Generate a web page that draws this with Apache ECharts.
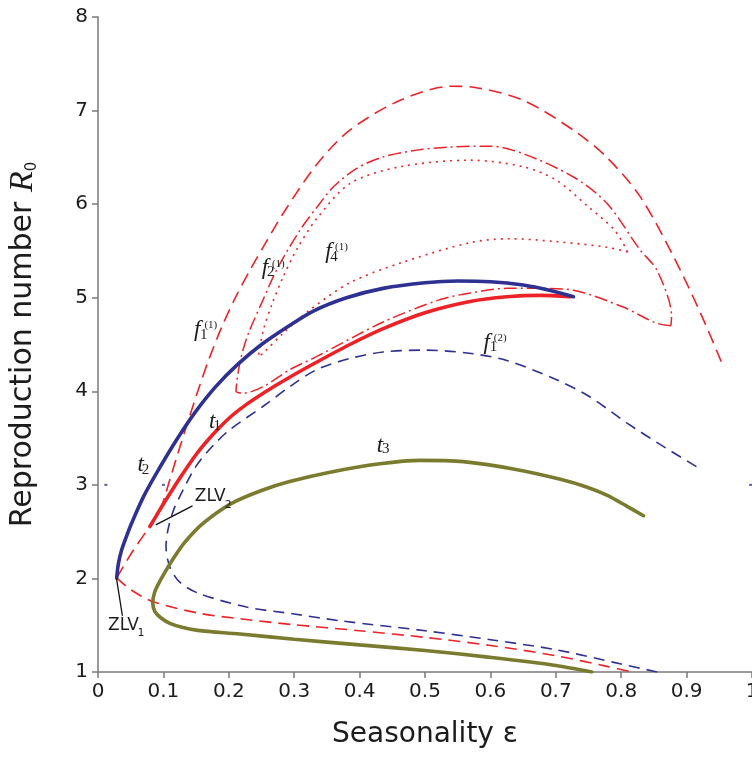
<!DOCTYPE html>
<html>
<head>
<meta charset="utf-8">
<script src="https://cdn.jsdelivr.net/npm/echarts@6/dist/echarts.min.js"></script>
<style>
  html, body { margin: 0; padding: 0; background: #fff; }
  #chart { width: 752px; height: 758px; }
</style>
</head>
<body>
<div id="chart"></div>
<script>
// Bifurcation curves in the (seasonality, R0) plane.
// Each curve is a list of [epsilon, R0] points along its path.

// Tangent bifurcations (solid)
const t1Curve = [[0.0793,2.555],[0.09,2.68],[0.0995,2.79],[0.125,3.07],[0.1506,3.33],[0.176,3.54],[0.2016,3.72],[0.227,3.86],[0.2526,3.98],[0.293,4.15],[0.334,4.31],[0.385,4.50],[0.436,4.67],[0.5,4.84],[0.569,4.96],[0.625,5.01],[0.676,5.025],[0.722,5.01]];
const t2Curve = [[0.0286,2.006],[0.031,2.15],[0.036,2.30],[0.043,2.44],[0.052,2.60],[0.07,2.88],[0.094,3.18],[0.12,3.48],[0.149,3.78],[0.18,4.05],[0.214,4.29],[0.25,4.50],[0.29,4.69],[0.33,4.86],[0.38,5.0],[0.436,5.10],[0.5,5.16],[0.55,5.178],[0.6,5.17],[0.65,5.135],[0.69,5.08],[0.727,5.01]];
const t3Curve = [[0.834,2.67],[0.809,2.77],[0.778,2.89],[0.748,2.975],[0.707,3.06],[0.635,3.17],[0.5587,3.248],[0.4924,3.262],[0.431,3.225],[0.3547,3.135],[0.293,3.035],[0.25,2.94],[0.2036,2.80],[0.161,2.59],[0.132,2.38],[0.115,2.21],[0.1016,2.057],[0.093,1.95],[0.0865,1.85],[0.0837,1.74],[0.087,1.645],[0.096,1.58],[0.11,1.52],[0.13,1.475],[0.1526,1.445],[0.217,1.406],[0.3,1.35],[0.4,1.29],[0.5,1.23],[0.6,1.156],[0.7,1.07],[0.755,1.0]];

// Flip bifurcations
const f11Lower = [[0.0286,2.006],[0.05,1.88],[0.0837,1.754],[0.153,1.63],[0.217,1.569],[0.3,1.505],[0.4,1.441],[0.5,1.37],[0.6,1.284],[0.7,1.174],[0.778,1.06],[0.816,1.0]];
const f11Upper = [[0.0286,2.006],[0.052,2.28],[0.0793,2.56],[0.097,2.77],[0.11,3.06],[0.125,3.40],[0.14,3.73],[0.155,4.05],[0.17,4.35],[0.19,4.70],[0.21,5.0],[0.232,5.29],[0.255,5.57],[0.283,5.90],[0.334,6.42],[0.385,6.79],[0.462,7.11],[0.54,7.26],[0.574,7.25],[0.65,7.11],[0.727,6.79],[0.778,6.50],[0.829,6.08],[0.88,5.44],[0.921,4.84],[0.954,4.30]];
const f21Curve = [[0.876,4.70],[0.853,4.73],[0.803,4.90],[0.727,5.08],[0.676,5.10],[0.625,5.10],[0.569,5.05],[0.523,4.98],[0.436,4.74],[0.334,4.37],[0.293,4.23],[0.2526,4.05],[0.222,3.98],[0.211,4.0],[0.212,4.085],[0.2155,4.25],[0.222,4.45],[0.232,4.655],[0.25,4.94],[0.273,5.296],[0.309,5.724],[0.335,5.97],[0.36,6.185],[0.395,6.38],[0.436,6.505],[0.49,6.58],[0.538,6.61],[0.6,6.62],[0.65,6.54],[0.727,6.29],[0.778,6.01],[0.829,5.51],[0.855,5.29],[0.877,4.80],[0.876,4.70]];
const f41Curve = [[0.81,5.49],[0.778,5.54],[0.70,5.60],[0.63,5.63],[0.57,5.59],[0.462,5.37],[0.385,5.16],[0.324,4.87],[0.283,4.62],[0.253,4.41],[0.245,4.37],[0.247,4.45],[0.253,4.66],[0.266,4.93],[0.283,5.22],[0.305,5.53],[0.334,5.84],[0.385,6.22],[0.462,6.40],[0.569,6.47],[0.65,6.40],[0.70,6.26],[0.75,5.97],[0.79,5.72],[0.81,5.49]];
const f12Curve = [[0.855,1.0],[0.8,1.085],[0.7,1.238],[0.6,1.345],[0.5,1.441],[0.37,1.548],[0.3,1.62],[0.227,1.694],[0.153,1.843],[0.125,1.96],[0.11,2.12],[0.104,2.34],[0.107,2.52],[0.115,2.72],[0.125,2.875],[0.15,3.2],[0.176,3.42],[0.2016,3.59],[0.2526,3.84],[0.2934,4.05],[0.334,4.23],[0.385,4.35],[0.436,4.42],[0.5,4.44],[0.564,4.41],[0.625,4.33],[0.702,4.12],[0.75,3.95],[0.809,3.66],[0.86,3.43],[0.921,3.17]];

// Stray marks at R0 = 3
const strayMarks = [[0.012,3.0],[0.1,3.0],[0.998,3.0]];

// Leader lines for the ZLV points
const zlv1Leader = [[0.0282,2.004],[0.0373,1.601]];
const zlv2Leader = [[0.0883,2.573],[0.1445,2.776]];

// Curve labels: text, anchor (data coords) and kind
const labelText = ['f','1','(1)', 'f','2','(1)', 'f','4','(1)', 'f','1','(2)', 't','1', 't','2', 't','3', 'ZLV','2', 'ZLV','1'];
const labelX = [0.1518,0.1618,0.1725, 0.2552,0.2643,0.2758, 0.3524,0.3608,0.3723, 0.5942,0.6049,0.6149, 0.1748,0.1825, 0.0651,0.0727, 0.4312,0.4401, 0.1717,0.199, 0.039,0.0658];
const labelY = [4.655,4.596,4.71, 5.317,5.269,5.359, 5.487,5.434,5.541, 4.516,4.468,4.569, 3.676,3.630, 3.213,3.16, 3.418,3.382, 2.872,2.778, 1.492,1.414];
const labelKind = ['it','sub','sup', 'it','sub','sup', 'it','sub','sup', 'it','sub','sup', 'it','sub', 'it','sub', 'it','sub', 'sans','sanssub', 'sans','sanssub'];

// Axis ticks
const xMin = 0, xMax = 1, xStep = 0.1;
const yMin = 1, yMax = 8, yStep = 1;

const RED = '#ED2227';
const NAVY = '#2E3192';
const OLIVE = '#7B7B30';
const INK = '#1c1c1c';

const kindStyle = {
  it:      { fontFamily: 'Liberation Serif', fontStyle: 'italic', fontSize: 23 },
  sub:     { fontFamily: 'Liberation Serif', fontSize: 15 },
  sup:     { fontFamily: 'Liberation Serif', fontSize: 11 },
  sans:    { fontFamily: 'DejaVu Sans', fontSize: 17 },
  sanssub: { fontFamily: 'DejaVu Sans', fontSize: 11 }
};

function curve(data, color, width, type, cap) {
  return {
    type: 'line', data: data, smooth: 0.3, symbol: 'none', silent: true,
    lineStyle: { color: color, width: width, type: type, cap: cap || 'butt' },
    z: 2
  };
}

const labelData = labelText.map((t, i) => ({
  value: [labelX[i], labelY[i]],
  label: Object.assign({
    show: true, formatter: t, color: INK, position: 'inside',
    align: 'center', verticalAlign: 'middle', textBorderWidth: 0, opacity: 1
  }, kindStyle[labelKind[i]])
}));

const chart = echarts.init(document.getElementById('chart'), null, { renderer: 'canvas' });

chart.setOption({
  animation: false,
  backgroundColor: '#fff',
  grid: { left: 98, right: 0, top: 17, bottom: 86, containLabel: false, outerBoundsMode: 'none' },
  xAxis: {
    type: 'value', min: xMin, max: xMax, interval: xStep,
    name: 'Seasonality ε', nameLocation: 'middle', nameGap: 49,
    nameTextStyle: { fontFamily: 'DejaVu Sans', fontSize: 28, color: INK },
    axisLine: { show: true, lineStyle: { color: '#7a7a7a', width: 1.5 } },
    axisTick: { show: true, length: 6, lineStyle: { color: '#7a7a7a', width: 1.5 } },
    axisLabel: { fontFamily: 'DejaVu Sans', fontSize: 20, color: INK, margin: 10,
      formatter: v => String(Math.round(v * 10) / 10) },
    splitLine: { show: false }
  },
  yAxis: {
    type: 'value', min: yMin, max: yMax, interval: yStep,
    name: 'Reproduction number {r|R}{s|0}', nameLocation: 'middle', nameGap: 58, nameRotate: 90,
    nameTextStyle: {
      fontFamily: 'DejaVu Sans', fontSize: 30, color: INK,
      rich: {
        r: { fontFamily: 'Liberation Serif', fontStyle: 'italic', fontSize: 34, color: INK },
        s: { fontFamily: 'DejaVu Sans', fontSize: 15, color: INK, verticalAlign: 'bottom', lineHeight: 30 }
      }
    },
    axisLine: { show: true, lineStyle: { color: '#7a7a7a', width: 1.5 } },
    axisTick: { show: true, length: 6, lineStyle: { color: '#7a7a7a', width: 1.5 } },
    axisLabel: { fontFamily: 'DejaVu Sans', fontSize: 20, color: INK, margin: 10 },
    splitLine: { show: false }
  },
  series: [
    curve(f12Curve, NAVY, 1.6, [11, 7]),
    curve(f11Lower, RED, 1.6, [12, 7]),
    curve(f11Upper, RED, 1.6, [13, 7]),
    curve(f21Curve, RED, 1.5, [13, 4, 2, 4]),
    curve(f41Curve, RED, 1.6, [2, 5]),
    curve(t3Curve, OLIVE, 3.6, 'solid', 'round'),
    curve(t1Curve, RED, 3.6, 'solid', 'round'),
    curve(t2Curve, NAVY, 3.6, 'solid', 'round'),
    { type: 'line', data: zlv1Leader, symbol: 'none', silent: true, lineStyle: { color: '#111', width: 1.3 }, z: 3 },
    { type: 'line', data: zlv2Leader, symbol: 'none', silent: true, lineStyle: { color: '#111', width: 1.3 }, z: 3 },
    { type: 'scatter', data: strayMarks, symbol: 'rect', symbolSize: [3, 2], itemStyle: { color: NAVY }, silent: true, z: 3 },
    { type: 'scatter', data: labelData, symbolSize: 1, itemStyle: { color: 'rgba(0,0,0,0)' }, silent: true, z: 4 }
  ]
});
</script>
</body>
</html>
